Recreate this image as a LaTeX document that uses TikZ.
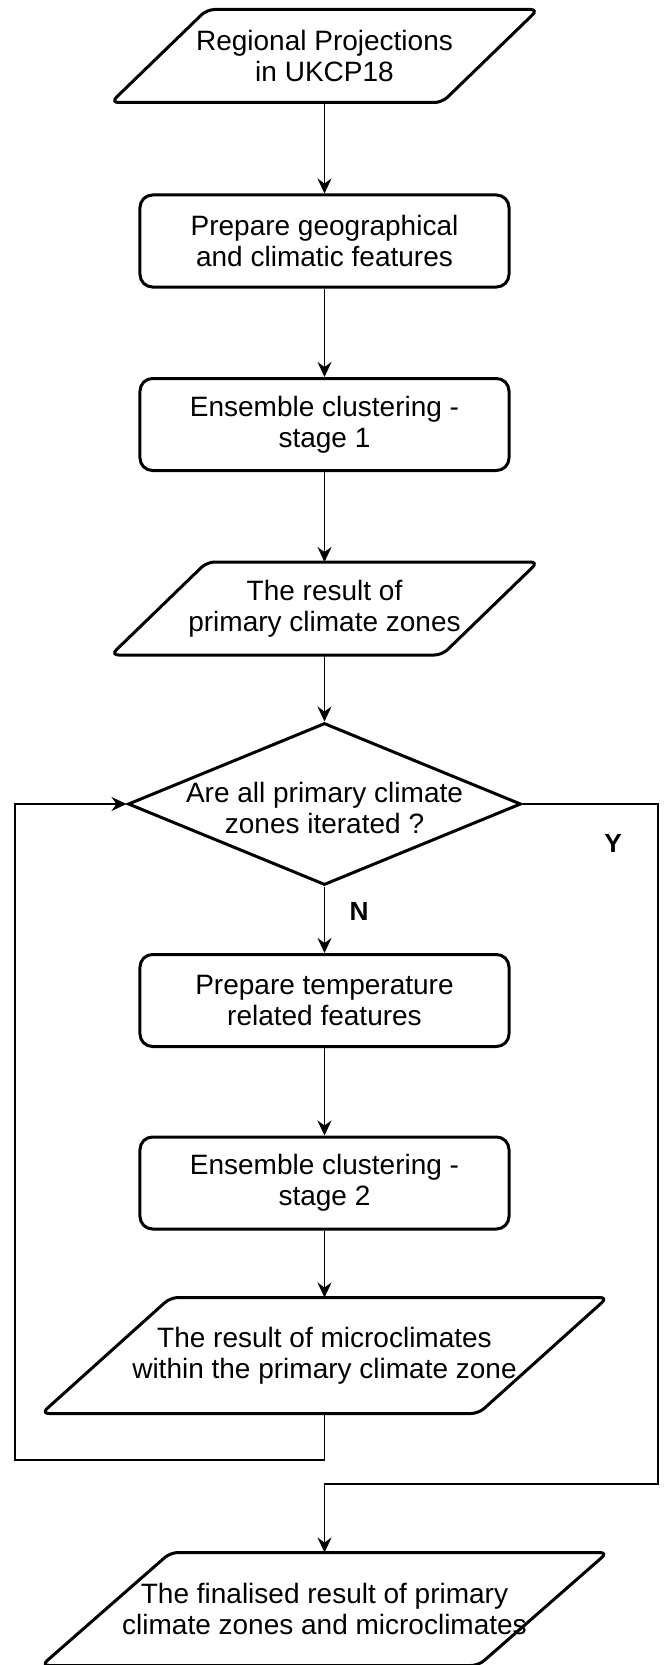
\documentclass[tikz,border=0pt]{standalone}
\usepackage{fontspec}
\setmainfont{Liberation Sans}
\usetikzlibrary{arrows.meta, shapes.geometric}

\tikzset{
  shapeline/.style={draw, line width=1.2pt},
  procbox/.style={shapeline, rounded corners=5pt, minimum width=147.6pt, minimum height=36.8pt, inner sep=0pt, align=center},
  iobox/.style={minimum width=132pt, minimum height=36.8pt, inner sep=0pt, align=center},
  wideio/.style={iobox, minimum width=174.4pt, minimum height=46pt},
  decbox/.style={shape=diamond, shapeline, minimum width=157.2pt, minimum height=64.8pt, inner sep=0pt},
  flow/.style={line width=0.75pt, ->},
  yn/.style={font=\bfseries\fontsize{10.5pt}{12pt}\selectfont}
}

\begin{document}
\begin{tikzpicture}[x=0.4pt, y=-0.4pt, >={Stealth[length=6pt, width=5.6pt, inset=2pt]}, font=\fontsize{11.2pt}{12.4pt}\selectfont]

\useasboundingbox (0,0) rectangle (665,1665);

% main column
\node[iobox] (in) at (324.5,56) {Regional Projections\\in UKCP18};
\node[procbox] (prep1) at (324.5,241) {Prepare geographical\\and climatic features};
\node[procbox] (clus1) at (324.5,424.5) {Ensemble clustering -\\stage 1};
\node[iobox] (res1) at (324.5,608.5) {The result of\\primary climate zones};
\node[decbox, label={[align=center, yshift=-1.5pt]center:Are all primary climate\\zones iterated ?}] (dec) at (324.5,804) {};
\node[procbox] (prep2) at (324.5,1000.5) {Prepare temperature\\related features};
\node[procbox] (clus2) at (324.5,1183) {Ensemble clustering -\\stage 2};
\node[wideio] (res2) at (324.5,1355.5) {The result of microclimates\\within the primary climate zone};
\node[wideio, minimum height=44.8pt] (fin) at (324.5,1609) {The finalised result of primary\\climate zones and microclimates};

% parallelograms round the in/out nodes
\foreach \n/\s in {in/19.2pt, res1/19.2pt, res2/25.8pt, fin/25.8pt}
  \draw[shapeline, rounded corners=3pt] ([xshift=\s]\n.north west) -- ([xshift=\s]\n.north east) -- ([xshift=-\s]\n.south east) -- ([xshift=-\s]\n.south west) -- cycle;

\draw[flow] (in) -- (prep1);
\draw[flow] (prep1) -- (clus1);
\draw[flow] (clus1) -- (res1);
\draw[flow] (res1) -- (dec);
\draw[flow] (dec) -- (prep2);
\draw[flow] (prep2) -- (clus2);
\draw[flow] (clus2) -- (res2);

% loop back and exit
\coordinate (loopturn) at (15,1460);
\coordinate (exitturn) at (658,1484);
\draw[flow] (res2.south) |- (loopturn) |- (dec.west);
\draw[flow] (dec.east) -| (exitturn) -| (fin.north);

\node[yn] (nlab) at (359,911) {N};
\node[yn] (ylab) at (613,843) {Y};

\end{tikzpicture}
\end{document}
